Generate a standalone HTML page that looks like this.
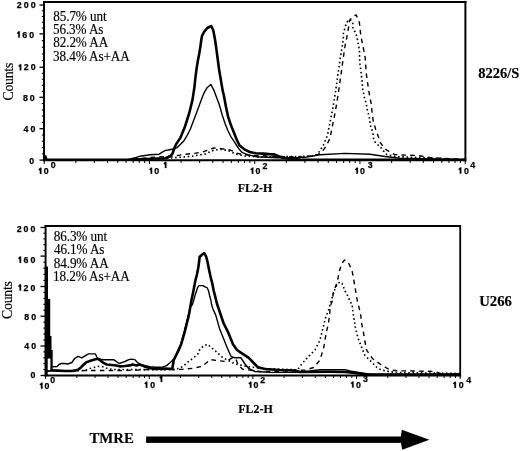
<!DOCTYPE html>
<html><head><meta charset="utf-8"><style>
html,body{margin:0;padding:0;background:#fff;width:520px;height:451px;overflow:hidden;}
svg{display:block;will-change:transform;}
.t{stroke:#000;stroke-width:0.15px;}
.n{stroke:#000;stroke-width:0.25px;}
</style></head><body>
<svg width="520" height="451" viewBox="0 0 520 451">
<rect x="0" y="0" width="520" height="451" fill="#fff"/>
<line x1="43" y1="1.9" x2="466.4" y2="1.9" stroke="#000" stroke-width="2"/>
<line x1="44" y1="0.9" x2="44" y2="161.3" stroke="#000" stroke-width="2"/>
<line x1="465.4" y1="0.9" x2="465.4" y2="161.3" stroke="#000" stroke-width="2"/>
<line x1="43" y1="160.2" x2="466.4" y2="160.2" stroke="#000" stroke-width="2"/>
<line x1="39.5" y1="5" x2="44" y2="5" stroke="#000" stroke-width="1.3"/>
<line x1="41.8" y1="10.78" x2="44" y2="10.78" stroke="#000" stroke-width="1.1"/>
<line x1="41.8" y1="16.56" x2="44" y2="16.56" stroke="#000" stroke-width="1.1"/>
<line x1="41.8" y1="22.34" x2="44" y2="22.34" stroke="#000" stroke-width="1.1"/>
<line x1="41.8" y1="28.12" x2="44" y2="28.12" stroke="#000" stroke-width="1.1"/>
<line x1="39.5" y1="33.9" x2="44" y2="33.9" stroke="#000" stroke-width="1.3"/>
<line x1="41.8" y1="40.58" x2="44" y2="40.58" stroke="#000" stroke-width="1.1"/>
<line x1="41.8" y1="47.26" x2="44" y2="47.26" stroke="#000" stroke-width="1.1"/>
<line x1="41.8" y1="53.94" x2="44" y2="53.94" stroke="#000" stroke-width="1.1"/>
<line x1="41.8" y1="60.62" x2="44" y2="60.62" stroke="#000" stroke-width="1.1"/>
<line x1="39.5" y1="67.3" x2="44" y2="67.3" stroke="#000" stroke-width="1.3"/>
<line x1="41.8" y1="73.3" x2="44" y2="73.3" stroke="#000" stroke-width="1.1"/>
<line x1="41.8" y1="79.3" x2="44" y2="79.3" stroke="#000" stroke-width="1.1"/>
<line x1="41.8" y1="85.3" x2="44" y2="85.3" stroke="#000" stroke-width="1.1"/>
<line x1="41.8" y1="91.3" x2="44" y2="91.3" stroke="#000" stroke-width="1.1"/>
<line x1="39.5" y1="97.3" x2="44" y2="97.3" stroke="#000" stroke-width="1.3"/>
<line x1="41.8" y1="103.58" x2="44" y2="103.58" stroke="#000" stroke-width="1.1"/>
<line x1="41.8" y1="109.86" x2="44" y2="109.86" stroke="#000" stroke-width="1.1"/>
<line x1="41.8" y1="116.14" x2="44" y2="116.14" stroke="#000" stroke-width="1.1"/>
<line x1="41.8" y1="122.42" x2="44" y2="122.42" stroke="#000" stroke-width="1.1"/>
<line x1="39.5" y1="128.7" x2="44" y2="128.7" stroke="#000" stroke-width="1.3"/>
<line x1="41.8" y1="134.98" x2="44" y2="134.98" stroke="#000" stroke-width="1.1"/>
<line x1="41.8" y1="141.26" x2="44" y2="141.26" stroke="#000" stroke-width="1.1"/>
<line x1="41.8" y1="147.54" x2="44" y2="147.54" stroke="#000" stroke-width="1.1"/>
<line x1="41.8" y1="153.82" x2="44" y2="153.82" stroke="#000" stroke-width="1.1"/>
<line x1="39.5" y1="160.1" x2="44" y2="160.1" stroke="#000" stroke-width="1.3"/>
<text x="16.78" y="7.53" font-family="Liberation Sans" font-weight="bold" font-size="8.8" class="n">2</text>
<text x="23.72" y="7.53" font-family="Liberation Sans" font-weight="bold" font-size="8.8" class="n">0</text>
<text x="30.67" y="7.53" font-family="Liberation Sans" font-weight="bold" font-size="8.8" class="n">0</text>
<path d="M18.28,37.53 L19.78,37.53 L19.78,31.37 L18.46,31.37 L16.87,33.13 L18.28,34.19 Z" fill="#000" stroke="#000" stroke-width="0.25"/>
<text x="22.32" y="37.53" font-family="Liberation Sans" font-weight="bold" font-size="8.8" class="n">6</text>
<text x="29.27" y="37.53" font-family="Liberation Sans" font-weight="bold" font-size="8.8" class="n">0</text>
<path d="M19.78,70.33 L21.28,70.33 L21.28,64.17 L19.96,64.17 L18.37,65.93 L19.78,66.99 Z" fill="#000" stroke="#000" stroke-width="0.25"/>
<text x="23.82" y="70.33" font-family="Liberation Sans" font-weight="bold" font-size="8.8" class="n">2</text>
<text x="30.77" y="70.33" font-family="Liberation Sans" font-weight="bold" font-size="8.8" class="n">0</text>
<text x="22.92" y="101.13" font-family="Liberation Sans" font-weight="bold" font-size="8.8" class="n">8</text>
<text x="29.87" y="101.13" font-family="Liberation Sans" font-weight="bold" font-size="8.8" class="n">0</text>
<text x="23.52" y="132.23" font-family="Liberation Sans" font-weight="bold" font-size="8.8" class="n">4</text>
<text x="30.47" y="132.23" font-family="Liberation Sans" font-weight="bold" font-size="8.8" class="n">0</text>
<text x="29.27" y="163.93" font-family="Liberation Sans" font-weight="bold" font-size="8.8" class="n">0</text>
<line x1="44.2" y1="161" x2="44.2" y2="164" stroke="#000" stroke-width="1"/>
<line x1="75.88" y1="161" x2="75.88" y2="163" stroke="#000" stroke-width="1"/>
<line x1="94.42" y1="161" x2="94.42" y2="163" stroke="#000" stroke-width="1"/>
<line x1="107.57" y1="161" x2="107.57" y2="163" stroke="#000" stroke-width="1"/>
<line x1="117.77" y1="161" x2="117.77" y2="163" stroke="#000" stroke-width="1"/>
<line x1="126.1" y1="161" x2="126.1" y2="163" stroke="#000" stroke-width="1"/>
<line x1="133.15" y1="161" x2="133.15" y2="163" stroke="#000" stroke-width="1"/>
<line x1="139.25" y1="161" x2="139.25" y2="163" stroke="#000" stroke-width="1"/>
<line x1="144.63" y1="161" x2="144.63" y2="163" stroke="#000" stroke-width="1"/>
<line x1="149.45" y1="161" x2="149.45" y2="164" stroke="#000" stroke-width="1"/>
<line x1="181.13" y1="161" x2="181.13" y2="163" stroke="#000" stroke-width="1"/>
<line x1="199.67" y1="161" x2="199.67" y2="163" stroke="#000" stroke-width="1"/>
<line x1="212.82" y1="161" x2="212.82" y2="163" stroke="#000" stroke-width="1"/>
<line x1="223.02" y1="161" x2="223.02" y2="163" stroke="#000" stroke-width="1"/>
<line x1="231.35" y1="161" x2="231.35" y2="163" stroke="#000" stroke-width="1"/>
<line x1="238.4" y1="161" x2="238.4" y2="163" stroke="#000" stroke-width="1"/>
<line x1="244.5" y1="161" x2="244.5" y2="163" stroke="#000" stroke-width="1"/>
<line x1="249.88" y1="161" x2="249.88" y2="163" stroke="#000" stroke-width="1"/>
<line x1="254.7" y1="161" x2="254.7" y2="164" stroke="#000" stroke-width="1"/>
<line x1="286.38" y1="161" x2="286.38" y2="163" stroke="#000" stroke-width="1"/>
<line x1="304.92" y1="161" x2="304.92" y2="163" stroke="#000" stroke-width="1"/>
<line x1="318.07" y1="161" x2="318.07" y2="163" stroke="#000" stroke-width="1"/>
<line x1="328.27" y1="161" x2="328.27" y2="163" stroke="#000" stroke-width="1"/>
<line x1="336.6" y1="161" x2="336.6" y2="163" stroke="#000" stroke-width="1"/>
<line x1="343.65" y1="161" x2="343.65" y2="163" stroke="#000" stroke-width="1"/>
<line x1="349.75" y1="161" x2="349.75" y2="163" stroke="#000" stroke-width="1"/>
<line x1="355.13" y1="161" x2="355.13" y2="163" stroke="#000" stroke-width="1"/>
<line x1="359.95" y1="161" x2="359.95" y2="164" stroke="#000" stroke-width="1"/>
<line x1="391.63" y1="161" x2="391.63" y2="163" stroke="#000" stroke-width="1"/>
<line x1="410.17" y1="161" x2="410.17" y2="163" stroke="#000" stroke-width="1"/>
<line x1="423.32" y1="161" x2="423.32" y2="163" stroke="#000" stroke-width="1"/>
<line x1="433.52" y1="161" x2="433.52" y2="163" stroke="#000" stroke-width="1"/>
<line x1="441.85" y1="161" x2="441.85" y2="163" stroke="#000" stroke-width="1"/>
<line x1="448.9" y1="161" x2="448.9" y2="163" stroke="#000" stroke-width="1"/>
<line x1="455" y1="161" x2="455" y2="163" stroke="#000" stroke-width="1"/>
<line x1="460.38" y1="161" x2="460.38" y2="163" stroke="#000" stroke-width="1"/>
<line x1="465.2" y1="161" x2="465.2" y2="164" stroke="#000" stroke-width="1"/>
<path d="M39.91,174 L41.4,174 L41.4,167.84 L40.08,167.84 L38.5,169.6 L39.91,170.66 Z" fill="#000" stroke="#000" stroke-width="0.25"/>
<text x="43.85" y="173.91" font-family="Liberation Sans" font-weight="bold" font-size="8.8" class="n">0</text>
<text x="50.85" y="168.31" font-family="Liberation Sans" font-weight="bold" font-size="8.8" class="n">0</text>
<path d="M150.61,173.8 L152.1,173.8 L152.1,167.64 L150.78,167.64 L149.2,169.4 L150.61,170.46 Z" fill="#000" stroke="#000" stroke-width="0.25"/>
<text x="154.25" y="173.71" font-family="Liberation Sans" font-weight="bold" font-size="8.8" class="n">0</text>
<path d="M164.91,168 L166.4,168 L166.4,161.84 L165.08,161.84 L163.5,163.6 L164.91,164.66 Z" fill="#000" stroke="#000" stroke-width="0.25"/>
<path d="M251.81,173.8 L253.3,173.8 L253.3,167.64 L251.98,167.64 L250.4,169.4 L251.81,170.46 Z" fill="#000" stroke="#000" stroke-width="0.25"/>
<text x="255.45" y="173.71" font-family="Liberation Sans" font-weight="bold" font-size="8.8" class="n">0</text>
<text x="262.39" y="168.6" font-family="Liberation Sans" font-weight="bold" font-size="8.8" class="n">2</text>
<path d="M356.41,173.8 L357.9,173.8 L357.9,167.64 L356.58,167.64 L355,169.4 L356.41,170.46 Z" fill="#000" stroke="#000" stroke-width="0.25"/>
<text x="360.05" y="173.71" font-family="Liberation Sans" font-weight="bold" font-size="8.8" class="n">0</text>
<text x="367.8" y="168.4" font-family="Liberation Sans" font-weight="bold" font-size="8.8" class="n">3</text>
<path d="M459.81,173.6 L461.3,173.6 L461.3,167.44 L459.98,167.44 L458.4,169.2 L459.81,170.26 Z" fill="#000" stroke="#000" stroke-width="0.25"/>
<text x="464.05" y="173.51" font-family="Liberation Sans" font-weight="bold" font-size="8.8" class="n">0</text>
<text x="470.37" y="168.3" font-family="Liberation Sans" font-weight="bold" font-size="8.8" class="n">4</text>
<text transform="translate(53.2,21) scale(1,1.08)" font-family="Liberation Serif" font-weight="normal" font-size="13.2" letter-spacing="-0.1" class="t">85.7% unt</text>
<text transform="translate(52.93,34) scale(1,1.08)" font-family="Liberation Serif" font-weight="normal" font-size="13.2" letter-spacing="-0.1" class="t">56.3% As</text>
<text transform="translate(53.2,47) scale(1,1.08)" font-family="Liberation Serif" font-weight="normal" font-size="13.2" letter-spacing="-0.1" class="t">82.2% AA</text>
<text transform="translate(53.07,60.6) scale(1,1.08)" font-family="Liberation Serif" font-weight="normal" font-size="13.2" letter-spacing="-0.1" class="t">38.4% As+AA</text>
<polyline points="45,159.7 140,159.7 170,158 190,156.5 205,154 214.6,149.8 222,149.5 228,150.5 236,154 245,156 260,157 300,156.5 315.3,155.7 319.3,151.7 323.3,145.1 327.3,135.7 330,122.4 332.6,109.1 335.3,93.2 337.9,74.6 340.6,56 343.2,40 343.4,33 344.5,29.6 345.9,24.3 348,20.5 350,19.5 352.7,22.9 352.9,28.6 355.5,32.5 356.9,36.7 357.8,41.6 359.4,50 359.6,58 360,64.4 361,72.2 362,80.5 362.8,89.9 364.6,98.2 366.4,104 366.8,108 368,112 369.3,117.3 370.4,125.3 372,130 373,134 373.6,139.2 375.7,143.2 380,146.5 382.6,149.9 386.6,154.5 395,156.5 410,157.2 465,159.7" fill="none" stroke="#000" stroke-width="1.6" stroke-linejoin="round" stroke-linecap="butt" stroke-dasharray="1.6 2.6"/>
<polyline points="45,159.7 128,159.7 150,157.5 165,156.5 176.2,155.7 185.4,154.2 194.6,153.4 203,151.8 207,150.3 213.8,148 220.8,148.6 227,149.4 230.8,150.3 234.6,151.8 237.7,153.4 242.3,154.5 255,155.5 280,156.5 300,157 312,156 318,154.4 322,151.7 326,146.4 330,138.4 332.6,125.1 335.3,111.8 337.9,95.9 340.6,77.2 343.2,58.6 345.2,45 346.8,37.5 348.4,28.5 349.5,20.5 352.5,17 356,14.8 357.5,18 359.4,22.5 360.5,33 362,41.6 363.7,50 365.1,57.3 366.3,73.6 368.6,89.9 370.4,100 371.3,104 372,112 373.3,121.3 376,130.6 378.5,137 379.8,142 383.3,146.5 385.3,149.2 392,153.2 394.6,154.5 398.8,155 409.6,155.2 417,155.5 430,157.5 465,159.7" fill="none" stroke="#000" stroke-width="1.4" stroke-linejoin="round" stroke-linecap="butt" stroke-dasharray="4.6 4.2"/>
<polyline points="45,159.7 128,159.7 135,157.8 140,156.2 150,154.8 159.2,154.2 161.5,152.7 165.4,150.4 168,150 173.5,149 177.2,147.6 180.5,144.3 183.8,140.9 187.2,135.4 190.5,128.7 193.8,119.9 197.2,111 200.5,102.1 203.8,93.3 207.1,87.7 210.8,84.4 214.2,90.9 216.8,98 219.4,105 222.3,115.2 225.2,123.9 228.1,131 231,136.8 233.9,141.2 236.7,145.5 239.6,149.8 242.5,152.7 248.3,154.9 256.8,156.7 267.2,157.2 277.5,157.7 290,157.8 305,157.4 320,154.8 345,153.4 370,154.2 385,156.5 400,158.2 465,159.7" fill="none" stroke="#000" stroke-width="1.4" stroke-linejoin="round" stroke-linecap="butt"/>
<polyline points="45,155.5 46.5,159.7 128,159.7 165,158.2 170,156.5 172.5,153.5 174.2,148.5 176.1,144.3 180.5,137.6 185,126.5 189.2,113.2 192.5,99.9 194.5,86.6 195.3,78.5 196,73.2 196.9,66.5 198,59.9 199.3,53.2 200.4,46.6 201.3,40 202,36 204,32 207.3,28 211.3,26 213.3,30.6 215,39.5 216.3,48.4 217.7,59 219.1,69.6 220.9,80.3 222.7,90.9 223.8,95 225.9,106.5 228.1,116.6 231,125.3 233.9,132.5 236.7,139.7 239.6,145.5 244,149.1 249.7,152 255.5,153.2 263,153.6 269.2,154.1 274.4,154.4 278.6,156.2 282.7,157.7 290,158.6 300,159.5 465,159.7" fill="none" stroke="#000" stroke-width="2.6" stroke-linejoin="round" stroke-linecap="butt"/>
<text x="478.32" y="78.3" font-family="Liberation Serif" font-weight="bold" font-size="14.5" class="t">8226/S</text>
<text x="237.69" y="191.9" font-family="Liberation Serif" font-weight="bold" font-size="12" class="t">FL2-H</text>
<text transform="translate(12.6,100.57) rotate(-90)" x="0" y="0" font-family="Liberation Serif" font-size="13.8" letter-spacing="-0.25" class="t">Counts</text>
<line x1="44.6" y1="226" x2="461.1" y2="226" stroke="#000" stroke-width="2"/>
<line x1="45.6" y1="225" x2="45.6" y2="376.5" stroke="#000" stroke-width="1.9"/>
<line x1="460.2" y1="225" x2="460.2" y2="376.5" stroke="#000" stroke-width="1.8"/>
<line x1="44.6" y1="375.5" x2="461.1" y2="375.5" stroke="#000" stroke-width="2"/>
<line x1="40.5" y1="227.5" x2="45.6" y2="227.5" stroke="#000" stroke-width="1.3"/>
<line x1="43.3" y1="233.22" x2="45.6" y2="233.22" stroke="#000" stroke-width="1.1"/>
<line x1="43.3" y1="238.94" x2="45.6" y2="238.94" stroke="#000" stroke-width="1.1"/>
<line x1="43.3" y1="244.66" x2="45.6" y2="244.66" stroke="#000" stroke-width="1.1"/>
<line x1="43.3" y1="250.38" x2="45.6" y2="250.38" stroke="#000" stroke-width="1.1"/>
<line x1="40.5" y1="256.1" x2="45.6" y2="256.1" stroke="#000" stroke-width="1.3"/>
<line x1="43.3" y1="262.18" x2="45.6" y2="262.18" stroke="#000" stroke-width="1.1"/>
<line x1="43.3" y1="268.26" x2="45.6" y2="268.26" stroke="#000" stroke-width="1.1"/>
<line x1="43.3" y1="274.34" x2="45.6" y2="274.34" stroke="#000" stroke-width="1.1"/>
<line x1="43.3" y1="280.42" x2="45.6" y2="280.42" stroke="#000" stroke-width="1.1"/>
<line x1="40.5" y1="286.5" x2="45.6" y2="286.5" stroke="#000" stroke-width="1.3"/>
<line x1="43.3" y1="292.44" x2="45.6" y2="292.44" stroke="#000" stroke-width="1.1"/>
<line x1="43.3" y1="298.38" x2="45.6" y2="298.38" stroke="#000" stroke-width="1.1"/>
<line x1="43.3" y1="304.32" x2="45.6" y2="304.32" stroke="#000" stroke-width="1.1"/>
<line x1="43.3" y1="310.26" x2="45.6" y2="310.26" stroke="#000" stroke-width="1.1"/>
<line x1="40.5" y1="316.2" x2="45.6" y2="316.2" stroke="#000" stroke-width="1.3"/>
<line x1="43.3" y1="322.16" x2="45.6" y2="322.16" stroke="#000" stroke-width="1.1"/>
<line x1="43.3" y1="328.12" x2="45.6" y2="328.12" stroke="#000" stroke-width="1.1"/>
<line x1="43.3" y1="334.08" x2="45.6" y2="334.08" stroke="#000" stroke-width="1.1"/>
<line x1="43.3" y1="340.04" x2="45.6" y2="340.04" stroke="#000" stroke-width="1.1"/>
<line x1="40.5" y1="346" x2="45.6" y2="346" stroke="#000" stroke-width="1.3"/>
<line x1="43.3" y1="351.9" x2="45.6" y2="351.9" stroke="#000" stroke-width="1.1"/>
<line x1="43.3" y1="357.8" x2="45.6" y2="357.8" stroke="#000" stroke-width="1.1"/>
<line x1="43.3" y1="363.7" x2="45.6" y2="363.7" stroke="#000" stroke-width="1.1"/>
<line x1="43.3" y1="369.6" x2="45.6" y2="369.6" stroke="#000" stroke-width="1.1"/>
<line x1="40.5" y1="375.5" x2="45.6" y2="375.5" stroke="#000" stroke-width="1.3"/>
<text x="16.68" y="232.03" font-family="Liberation Sans" font-weight="bold" font-size="8.8" class="n">2</text>
<text x="23.62" y="232.03" font-family="Liberation Sans" font-weight="bold" font-size="8.8" class="n">0</text>
<text x="30.57" y="232.03" font-family="Liberation Sans" font-weight="bold" font-size="8.8" class="n">0</text>
<path d="M19.58,262.73 L21.08,262.73 L21.08,256.57 L19.76,256.57 L18.17,258.33 L19.58,259.39 Z" fill="#000" stroke="#000" stroke-width="0.25"/>
<text x="23.62" y="262.73" font-family="Liberation Sans" font-weight="bold" font-size="8.8" class="n">6</text>
<text x="30.57" y="262.73" font-family="Liberation Sans" font-weight="bold" font-size="8.8" class="n">0</text>
<path d="M19.58,290.53 L21.08,290.53 L21.08,284.37 L19.76,284.37 L18.17,286.13 L19.58,287.19 Z" fill="#000" stroke="#000" stroke-width="0.25"/>
<text x="23.62" y="290.53" font-family="Liberation Sans" font-weight="bold" font-size="8.8" class="n">2</text>
<text x="30.57" y="290.53" font-family="Liberation Sans" font-weight="bold" font-size="8.8" class="n">0</text>
<text x="24.32" y="320.23" font-family="Liberation Sans" font-weight="bold" font-size="8.8" class="n">8</text>
<text x="31.27" y="320.23" font-family="Liberation Sans" font-weight="bold" font-size="8.8" class="n">0</text>
<text x="24.32" y="349.33" font-family="Liberation Sans" font-weight="bold" font-size="8.8" class="n">4</text>
<text x="31.27" y="349.33" font-family="Liberation Sans" font-weight="bold" font-size="8.8" class="n">0</text>
<text x="30.47" y="377.93" font-family="Liberation Sans" font-weight="bold" font-size="8.8" class="n">0</text>
<line x1="45.6" y1="376" x2="45.6" y2="379" stroke="#000" stroke-width="1"/>
<line x1="76.8" y1="376" x2="76.8" y2="378" stroke="#000" stroke-width="1"/>
<line x1="95.05" y1="376" x2="95.05" y2="378" stroke="#000" stroke-width="1"/>
<line x1="108" y1="376" x2="108" y2="378" stroke="#000" stroke-width="1"/>
<line x1="118.05" y1="376" x2="118.05" y2="378" stroke="#000" stroke-width="1"/>
<line x1="126.26" y1="376" x2="126.26" y2="378" stroke="#000" stroke-width="1"/>
<line x1="133.19" y1="376" x2="133.19" y2="378" stroke="#000" stroke-width="1"/>
<line x1="139.21" y1="376" x2="139.21" y2="378" stroke="#000" stroke-width="1"/>
<line x1="144.51" y1="376" x2="144.51" y2="378" stroke="#000" stroke-width="1"/>
<line x1="149.25" y1="376" x2="149.25" y2="379" stroke="#000" stroke-width="1"/>
<line x1="180.45" y1="376" x2="180.45" y2="378" stroke="#000" stroke-width="1"/>
<line x1="198.7" y1="376" x2="198.7" y2="378" stroke="#000" stroke-width="1"/>
<line x1="211.65" y1="376" x2="211.65" y2="378" stroke="#000" stroke-width="1"/>
<line x1="221.7" y1="376" x2="221.7" y2="378" stroke="#000" stroke-width="1"/>
<line x1="229.91" y1="376" x2="229.91" y2="378" stroke="#000" stroke-width="1"/>
<line x1="236.84" y1="376" x2="236.84" y2="378" stroke="#000" stroke-width="1"/>
<line x1="242.86" y1="376" x2="242.86" y2="378" stroke="#000" stroke-width="1"/>
<line x1="248.16" y1="376" x2="248.16" y2="378" stroke="#000" stroke-width="1"/>
<line x1="252.9" y1="376" x2="252.9" y2="379" stroke="#000" stroke-width="1"/>
<line x1="284.1" y1="376" x2="284.1" y2="378" stroke="#000" stroke-width="1"/>
<line x1="302.35" y1="376" x2="302.35" y2="378" stroke="#000" stroke-width="1"/>
<line x1="315.3" y1="376" x2="315.3" y2="378" stroke="#000" stroke-width="1"/>
<line x1="325.35" y1="376" x2="325.35" y2="378" stroke="#000" stroke-width="1"/>
<line x1="333.56" y1="376" x2="333.56" y2="378" stroke="#000" stroke-width="1"/>
<line x1="340.49" y1="376" x2="340.49" y2="378" stroke="#000" stroke-width="1"/>
<line x1="346.51" y1="376" x2="346.51" y2="378" stroke="#000" stroke-width="1"/>
<line x1="351.81" y1="376" x2="351.81" y2="378" stroke="#000" stroke-width="1"/>
<line x1="356.55" y1="376" x2="356.55" y2="379" stroke="#000" stroke-width="1"/>
<line x1="387.75" y1="376" x2="387.75" y2="378" stroke="#000" stroke-width="1"/>
<line x1="406" y1="376" x2="406" y2="378" stroke="#000" stroke-width="1"/>
<line x1="418.95" y1="376" x2="418.95" y2="378" stroke="#000" stroke-width="1"/>
<line x1="429" y1="376" x2="429" y2="378" stroke="#000" stroke-width="1"/>
<line x1="437.21" y1="376" x2="437.21" y2="378" stroke="#000" stroke-width="1"/>
<line x1="444.14" y1="376" x2="444.14" y2="378" stroke="#000" stroke-width="1"/>
<line x1="450.16" y1="376" x2="450.16" y2="378" stroke="#000" stroke-width="1"/>
<line x1="455.46" y1="376" x2="455.46" y2="378" stroke="#000" stroke-width="1"/>
<line x1="460.2" y1="376" x2="460.2" y2="379" stroke="#000" stroke-width="1"/>
<path d="M41.01,388.8 L42.5,388.8 L42.5,382.64 L41.18,382.64 L39.6,384.4 L41.01,385.46 Z" fill="#000" stroke="#000" stroke-width="0.25"/>
<text x="44.45" y="388.71" font-family="Liberation Sans" font-weight="bold" font-size="8.8" class="n">0</text>
<text x="50.25" y="382.51" font-family="Liberation Sans" font-weight="bold" font-size="8.8" class="n">0</text>
<path d="M145.81,387.8 L147.3,387.8 L147.3,381.64 L145.98,381.64 L144.4,383.4 L145.81,384.46 Z" fill="#000" stroke="#000" stroke-width="0.25"/>
<text x="150.35" y="387.71" font-family="Liberation Sans" font-weight="bold" font-size="8.8" class="n">0</text>
<path d="M160.71,382 L162.2,382 L162.2,375.84 L160.88,375.84 L159.3,377.6 L160.71,378.66 Z" fill="#000" stroke="#000" stroke-width="0.25"/>
<path d="M249.91,387.8 L251.4,387.8 L251.4,381.64 L250.08,381.64 L248.5,383.4 L249.91,384.46 Z" fill="#000" stroke="#000" stroke-width="0.25"/>
<text x="253.4" y="387.71" font-family="Liberation Sans" font-weight="bold" font-size="8.8" class="n">0</text>
<text x="260.19" y="382.5" font-family="Liberation Sans" font-weight="bold" font-size="8.8" class="n">2</text>
<path d="M352.11,387.6 L353.6,387.6 L353.6,381.44 L352.28,381.44 L350.7,383.2 L352.11,384.26 Z" fill="#000" stroke="#000" stroke-width="0.25"/>
<text x="356.05" y="387.51" font-family="Liberation Sans" font-weight="bold" font-size="8.8" class="n">0</text>
<text x="363" y="382.2" font-family="Liberation Sans" font-weight="bold" font-size="8.8" class="n">3</text>
<path d="M454.41,387.9 L455.9,387.9 L455.9,381.74 L454.58,381.74 L453,383.5 L454.41,384.56 Z" fill="#000" stroke="#000" stroke-width="0.25"/>
<text x="458.65" y="387.81" font-family="Liberation Sans" font-weight="bold" font-size="8.8" class="n">0</text>
<text x="466.27" y="382.5" font-family="Liberation Sans" font-weight="bold" font-size="8.8" class="n">4</text>
<text transform="translate(53.7,241) scale(1,1.08)" font-family="Liberation Serif" font-weight="normal" font-size="13.2" letter-spacing="-0.1" class="t">86.3% unt</text>
<text transform="translate(53.94,254.3) scale(1,1.08)" font-family="Liberation Serif" font-weight="normal" font-size="13.2" letter-spacing="-0.1" class="t">46.1% As</text>
<text transform="translate(53.7,267.7) scale(1,1.08)" font-family="Liberation Serif" font-weight="normal" font-size="13.2" letter-spacing="-0.1" class="t">84.9% AA</text>
<text transform="translate(53.04,281) scale(1,1.08)" font-family="Liberation Serif" font-weight="normal" font-size="13.2" letter-spacing="-0.1" class="t">18.2% As+AA</text>
<polygon points="44.8,375.5 44.8,266.5 48,266.5 48,299 50.2,299 50.2,336 51.5,336 51.5,350 52.7,350 52.7,371 50.4,371 50.4,358.5 47.7,358.5 47.7,375.5" fill="#000"/>
<polyline points="48,371 85,370.5 90,368.5 94.3,367.4 98.2,366.4 102,366.5 106,368 112,369.5 150,369.6 175,369.6 181.5,367.2 184,365.4 189.2,361 194,357.5 198,353.8 199.6,349.9 203.8,345.6 207.8,344.3 210.5,347 214.3,349.9 220.1,355.2 223,357.9 227.3,359.8 235,364 250,367 270,369 290,369.5 297.5,370 301,365 307.5,357.5 315,350 320,340 323,328 325.5,318 328.5,310 331.5,300 334.5,290 337.5,284 340,282 343,284.6 344.2,289.5 347.3,295 348.5,298 351,303 351.9,303.5 353.7,317.3 355.4,327.7 358,338 361.4,346.7 364.9,355.4 368.4,358.8 372.7,363.1 377,367.5 381.3,370 386.5,371 395,372.5 460,373.5" fill="none" stroke="#000" stroke-width="1.6" stroke-linejoin="round" stroke-linecap="butt" stroke-dasharray="1.6 2.6"/>
<polyline points="47,371 80,370.6 128,370.4 150,369.6 172,369.6 183,369.2 192.7,368.3 202.3,366.3 210,359.6 217.7,360.6 225.4,361.5 233,357.7 236,359 238,365 242.7,369.2 260,371.5 290,371 305,370 313.75,367.5 320,360 323.75,347.5 326.25,332.5 328.4,323.7 329.6,315 330.2,306.6 332,301.7 332.6,298 333.2,293.2 335,288.3 337.5,281 339.3,271.2 342,263.3 344.6,260 348,262 352,270 353.4,278 355.2,288 356.4,296.5 358.6,305.9 360.6,313.8 361.4,322.5 363.2,331.1 364.9,341.5 366.6,350.2 372.7,358.8 381.3,364.9 390,370 398.6,370.9 407.3,370.9 434,371.4 440,373.5 460,374" fill="none" stroke="#000" stroke-width="1.4" stroke-linejoin="round" stroke-linecap="butt" stroke-dasharray="4.6 4.2"/>
<polyline points="52.5,366.7 57,366.5 59,364.5 61.3,363.5 64.5,363.5 67.9,364 71.9,362.5 74.6,358.5 78,356.3 81.8,357.8 86.7,354.9 88.6,353.9 95.3,353.9 96.8,356.8 98.2,358.7 103,359.7 113.6,359.7 116.5,361.6 119.3,363.5 123.2,362.1 125,361.5 128.8,359.6 131.7,359.1 134.6,359.6 137.5,362.5 140.4,364.4 144.2,365.4 150,366.8 155.8,367.3 161.5,367.3 166.3,365.9 170.2,362.5 174.4,358.6 179.2,350 183,336.5 187,321 190.8,305.8 192.3,304.8 193.6,300.9 195,295.5 196.3,291.5 197.6,287.6 199,285.6 203,285.6 205,286.9 207,287.6 208.3,290.2 209.6,295.5 211,300.9 211.6,304.8 213,309 215.8,315.4 219.6,328.8 223.5,338.5 227.3,348 231.2,356.7 235,357.7 240.8,357.7 244.6,363.5 248.5,368.3 255,371.5 270,372.3 295,372.4 310,371 320,369.8 345,369.6 350,371 360,372.7 370,374.3 460,374.5" fill="none" stroke="#000" stroke-width="1.4" stroke-linejoin="round" stroke-linecap="butt"/>
<polyline points="50.6,370.2 58.5,370.6 65.2,371 71.9,371 76,370.3 78,369.8 80.9,367.4 83.8,364.5 86.7,362.1 90.5,360.7 97.2,358.7 100.1,360.2 103,362.6 106.8,364.5 111.7,365 116.5,365.5 120.3,366.4 125,366 129.8,365.4 132.7,364.4 136.5,365.4 139.4,364.4 142.3,365.4 145.2,366.8 150,368.3 154.8,368.8 159.6,368.8 163.5,368.5 170,368.8 172.3,368.8 173.8,359.8 177,353.4 181.2,344.2 185,330.8 188.8,315.4 191.6,299.5 193,292.9 194.3,286.2 195.6,279.6 197,274.3 198.3,267.6 199,262.3 199.6,257 201.6,255 204.3,253 206.3,257 207.6,262.3 208.9,269 210.3,275.6 212.3,283.6 213.6,290.2 215.3,296.9 216.9,303.5 219.6,311.5 223.5,323 228.3,332.7 233,344.2 237,350 242.7,353.8 248.5,357.7 254.2,363.5 258,367.3 265,369 280,370 295,370.5 300,372 330,371.8 345,372 355,372.9 365,374.3 460,374.5" fill="none" stroke="#000" stroke-width="2.6" stroke-linejoin="round" stroke-linecap="butt"/>
<text x="479.23" y="306.3" font-family="Liberation Serif" font-weight="bold" font-size="14.7" class="t">U266</text>
<text x="238.19" y="412.8" font-family="Liberation Serif" font-weight="bold" font-size="12" class="t">FL2-H</text>
<text transform="translate(11.9,318.97) rotate(-90)" x="0" y="0" font-family="Liberation Serif" font-size="13.8" letter-spacing="-0.25" class="t">Counts</text>
<text x="89.47" y="443.2" font-family="Liberation Serif" font-weight="bold" font-size="14.8" class="t">TMRE</text>
<rect x="146.1" y="436.5" width="256" height="6.4" fill="#000"/>
<polygon points="401.8,429.8 429.4,439.7 402.2,449.8 400.9,443 400.9,436.5" fill="#000"/>
</svg>
</body></html>
